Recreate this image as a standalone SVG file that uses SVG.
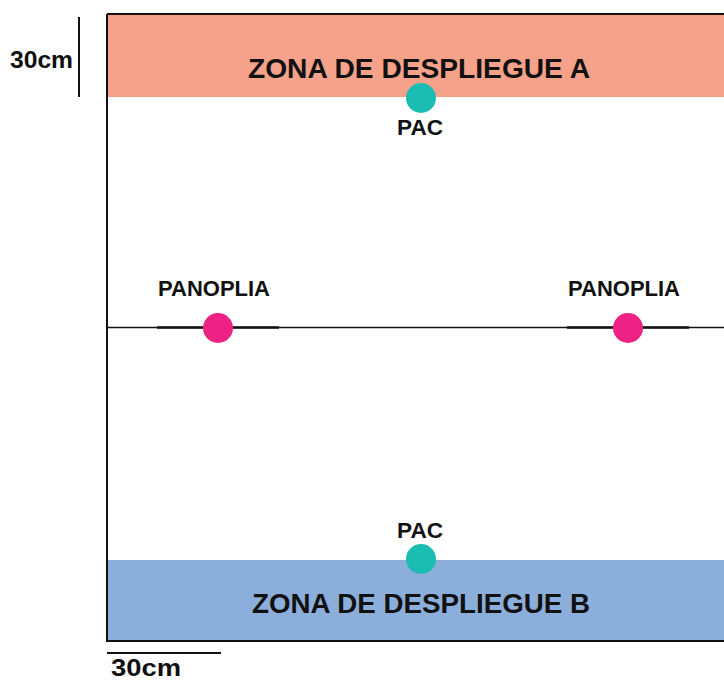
<svg xmlns="http://www.w3.org/2000/svg" width="724" height="680" viewBox="0 0 724 680">
<style>
.t{font-family:"Liberation Sans",Arial,sans-serif;font-weight:bold;fill:#111}
.pac{fill:#1bbcb1}
.pan{fill:#ee2285}
</style>
<rect width="724" height="680" fill="#fff"/>
<g id="zoneA">
<rect x="107" y="15" width="620" height="82" fill="#f6a28a"/>
<text class="t" x="419" y="78" font-size="27" text-anchor="middle" textLength="342" lengthAdjust="spacingAndGlyphs">ZONA DE DESPLIEGUE A</text>
</g>
<g id="zoneB">
<rect x="107" y="560" width="620" height="80" fill="#8caedb"/>
<text class="t" x="421" y="613" font-size="27" text-anchor="middle" textLength="338" lengthAdjust="spacingAndGlyphs">ZONA DE DESPLIEGUE B</text>
</g>
<g id="connectors" stroke="#111" fill="none">
<path d="M107 14 H726 M107 14 V641 H726" stroke-width="2"/>
<path d="M107 327.5 H724" stroke-width="1.5"/>
<path d="M157 327.5 H279 M567 327.5 H689" stroke-width="2.5"/>
<path d="M79 17 V97" stroke-width="2"/>
<path d="M107 653 H221" stroke-width="2"/>
</g>
<g id="pacA">
<circle class="pac" cx="421" cy="98" r="15"/>
<text class="t" x="420" y="135" font-size="22" text-anchor="middle" textLength="46" lengthAdjust="spacingAndGlyphs">PAC</text>
</g>
<g id="pacB">
<circle class="pac" cx="421" cy="559" r="15"/>
<text class="t" x="420" y="538" font-size="22" text-anchor="middle" textLength="46" lengthAdjust="spacingAndGlyphs">PAC</text>
</g>
<g id="panoplia1">
<circle class="pan" cx="218" cy="328" r="15"/>
<text class="t" x="214" y="296" font-size="22" text-anchor="middle" textLength="112" lengthAdjust="spacingAndGlyphs">PANOPLIA</text>
</g>
<g id="panoplia2">
<circle class="pan" cx="628" cy="328" r="15"/>
<text class="t" x="624" y="296" font-size="22" text-anchor="middle" textLength="112" lengthAdjust="spacingAndGlyphs">PANOPLIA</text>
</g>
<g id="scaleV">
<text class="t" x="10" y="68" font-size="24" textLength="63" lengthAdjust="spacingAndGlyphs">30cm</text>
</g>
<g id="scaleH">
<text class="t" x="111" y="676" font-size="24" textLength="70" lengthAdjust="spacingAndGlyphs">30cm</text>
</g>
</svg>
